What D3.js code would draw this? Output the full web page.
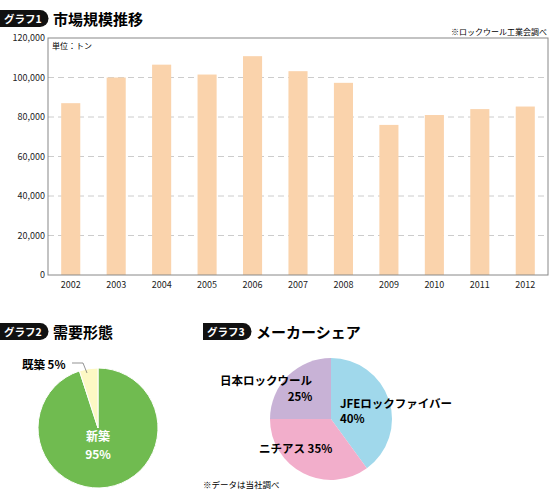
<!DOCTYPE html><html><head><meta charset="utf-8"><script src="https://cdn.jsdelivr.net/npm/d3@7"></script>
<style>body{margin:0;background:#fff}text{font-family:"Noto Sans CJK JP",sans-serif}</style></head><body><svg id="c" width="550" height="500"></svg><script>
const years=["2002","2003","2004","2005","2006","2007","2008","2009","2010","2011","2012"];
const volumes=[87000,100000,106500,101500,110800,103200,97300,76000,81000,84000,85300];
const yTicks=[0,20000,40000,60000,80000,100000,120000];
const demandLabels=["新築","既築"];
const demandValues=[95,5];
const makerLabels=["JFEロックファイバー","ニチアス","日本ロックウール"];
const makerValues=[40,35,25];

const svg=d3.select("#c");
function badge(x,y,t,title){
  const g=svg.append("g");
  g.append("path").attr("d",`M${x},${y}h40a8.5,8.5 0 0 1 0,17h-40z`).attr("fill","#111");
  g.append("text").attr("x",x+4).attr("y",y+13).attr("fill","#fff").attr("font-size",10.5).attr("font-weight","bold").text(t);
  g.append("text").attr("x",x+53).attr("y",y+14.5).attr("font-size",15).attr("font-weight","bold").text(title);
}
badge(0,10,"グラフ1","市場規模推移");
badge(0,323,"グラフ2","需要形態");
badge(203,323,"グラフ3","メーカーシェア");
svg.append("text").attr("x",547).attr("y",35).attr("text-anchor","end").attr("font-size",8).text("※ロックウール工業会調べ");

const x=d3.scaleBand().domain(years).range([48,548]).paddingInner(0.58).paddingOuter(0.29);
const y=d3.scaleLinear().domain([0,120000]).range([275,38]);
svg.append("g").selectAll("line").data(yTicks.slice(1,-1)).join("line")
 .attr("x1",48).attr("x2",548).attr("y1",d=>y(d)).attr("y2",d=>y(d)).attr("stroke","#ccc").attr("stroke-dasharray","6,4");
svg.append("g").selectAll("rect").data(years).join("rect")
 .attr("x",d=>x(d)).attr("width",x.bandwidth()).attr("y",(d,i)=>y(volumes[i])).attr("height",(d,i)=>275-y(volumes[i])).attr("fill","#fad3ac");
svg.append("rect").attr("x",48).attr("y",38).attr("width",500).attr("height",237).attr("fill","none").attr("stroke","#888");
const ya=svg.append("g").attr("transform","translate(48,0)").call(d3.axisLeft(y).tickValues(yTicks).tickSize(0).tickPadding(3).tickFormat(d3.format(",")));
ya.select(".domain").remove();ya.selectAll("text").attr("font-size",9).attr("fill","#222");
const xa=svg.append("g").attr("transform","translate(0,275)").call(d3.axisBottom(x).tickSize(0).tickPadding(7));
xa.select(".domain").remove();xa.selectAll("text").attr("font-size",9).attr("fill","#222");
svg.append("text").attr("x",52).attr("y",49).attr("font-size",8).text("単位：トン");

const pie=d3.pie().sort(null);
const a2=d3.arc().innerRadius(0).outerRadius(60);
const g2=svg.append("g").attr("transform","translate(98,428)");
g2.selectAll("path").data(pie(demandValues)).join("path").attr("d",a2).attr("fill",(d,i)=>["#70bb50","#fdf8c4"][i]).attr("stroke","#fff").attr("stroke-width",1);
g2.append("text").attr("x",0).attr("y",13).attr("text-anchor","middle").attr("fill","#fff").attr("font-size",12).attr("font-weight","bold").text(demandLabels[0]);
g2.append("text").attr("x",0).attr("y",31).attr("text-anchor","middle").attr("fill","#fff").attr("font-size",12).attr("font-weight","bold").text(demandValues[0]+"%");
svg.append("text").attr("x",22).attr("y",369).attr("font-size",11.5).attr("font-weight","bold").text(demandLabels[1]+" "+demandValues[1]+"%");
svg.append("path").attr("d","M72,363H83L87,373").attr("fill","none").attr("stroke","#666").attr("stroke-width",0.7);

const a3=d3.arc().innerRadius(0).outerRadius(61);
const g3=svg.append("g").attr("transform","translate(331,419)");
g3.selectAll("path").data(pie(makerValues)).join("path").attr("d",a3).attr("fill",(d,i)=>["#a0d8eb","#f2aecb","#c8b2d6"][i]);
const lab=(x0,y0,t,anchor)=>svg.append("text").attr("x",x0).attr("y",y0).attr("font-size",11.5).attr("font-weight","bold").attr("text-anchor",anchor||"start").text(t);
lab(340,408,makerLabels[0]);lab(340,423,makerValues[0]+"%");
lab(256,426+0,"");
lab(312,385,makerLabels[2],"end");lab(300,401,makerValues[2]+"%","middle");
lab(259,453,makerLabels[1]+" "+makerValues[1]+"%");
svg.append("text").attr("x",203,).attr("y",488).attr("font-size",8.5).text("※データは当社調べ");
</script></body></html>
